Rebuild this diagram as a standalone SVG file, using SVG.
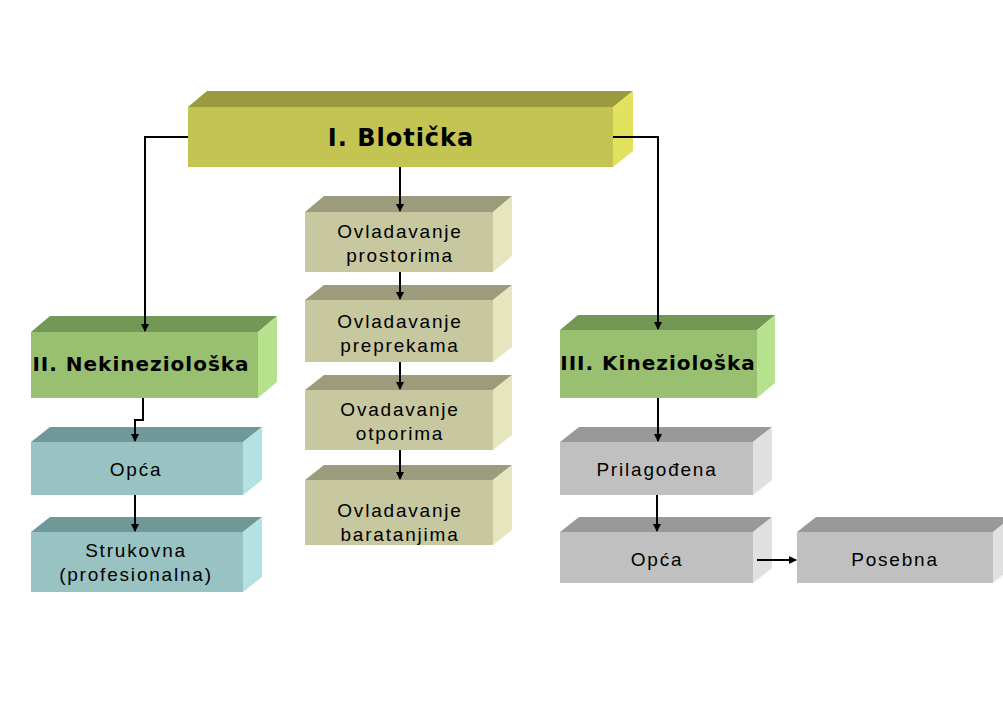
<svg xmlns="http://www.w3.org/2000/svg" width="1003" height="711" viewBox="0 0 1003 711">
<style>
.y-f{fill:#C4C452}.y-t{fill:#9A9A3E}.y-s{fill:#E2E25E}
.b-f{fill:#C7C7A0}.b-t{fill:#9C9C7C}.b-s{fill:#E6E6BE}
.g-f{fill:#99C070}.g-t{fill:#739856}.g-s{fill:#B6E28E}
.c-f{fill:#99C3C3}.c-t{fill:#6F9898}.c-s{fill:#B4E2E2}
.r-f{fill:#C0C0C0}.r-t{fill:#999999}.r-s{fill:#E0E0E0}
.t{font-family:"Liberation Sans",Arial,sans-serif;font-size:19px;letter-spacing:1.8px;fill:#000;text-anchor:middle}
.h{font-family:"DejaVu Sans",Verdana,sans-serif;font-weight:bold;fill:#000;text-anchor:middle;letter-spacing:1px}
.ln{fill:none;stroke:#000;stroke-width:2}
</style>
<defs>
<marker id="ar" markerWidth="8" markerHeight="8" refX="7" refY="4" orient="auto" markerUnits="userSpaceOnUse">
<path d="M0,0 L8,4 L0,8 Z" fill="#000"/>
</marker>
</defs>
<rect width="1003" height="711" fill="#fff"/>
<g id="n-biotic">
<polygon class="y-t" points="188,107 207,91 633,91 613,107"/>
<polygon class="y-s" points="613,107 633,91 633,151 613,167"/>
<rect class="y-f" x="188" y="107" width="425" height="60"/>
<text class="h" x="401" y="146" font-size="24">I. Blotička</text>
</g>
<g id="n-prostor">
<polygon class="b-t" points="305,212 324,196 512,196 493,212"/>
<polygon class="b-s" points="493,212 512,196 512,256 493,272"/>
<rect class="b-f" x="305" y="212" width="188" height="60"/>
<text class="t" x="400" y="238">Ovladavanje</text>
<text class="t" x="400" y="262">prostorima</text>
</g>
<g id="n-prepreke">
<polygon class="b-t" points="305,300 324,285 512,285 493,300"/>
<polygon class="b-s" points="493,300 512,285 512,347 493,362"/>
<rect class="b-f" x="305" y="300" width="188" height="62"/>
<text class="t" x="400" y="328">Ovladavanje</text>
<text class="t" x="400" y="352">preprekama</text>
</g>
<g id="n-otpori">
<polygon class="b-t" points="305,390 324,375 512,375 493,390"/>
<polygon class="b-s" points="493,390 512,375 512,435 493,450"/>
<rect class="b-f" x="305" y="390" width="188" height="60"/>
<text class="t" x="400" y="416">Ovadavanje</text>
<text class="t" x="400" y="440">otporima</text>
</g>
<g id="n-baratanje">
<polygon class="b-t" points="305,480 324,465 512,465 493,480"/>
<polygon class="b-s" points="493,480 512,465 512,530 493,545"/>
<rect class="b-f" x="305" y="480" width="188" height="65"/>
<text class="t" x="400" y="517">Ovladavanje</text>
<text class="t" x="400" y="541">baratanjima</text>
</g>
<g id="n-nekinezio">
<polygon class="g-t" points="31,332 50,316 277,316 258,332"/>
<polygon class="g-s" points="258,332 277,316 277,382 258,398"/>
<rect class="g-f" x="31" y="332" width="227" height="66"/>
<text class="h" x="141" y="371" font-size="20">II. Nekineziološka</text>
</g>
<g id="n-opca-l">
<polygon class="c-t" points="31,442 50,427 262,427 243,442"/>
<polygon class="c-s" points="243,442 262,427 262,480 243,495"/>
<rect class="c-f" x="31" y="442" width="212" height="53"/>
<text class="t" x="136" y="476">Opća</text>
</g>
<g id="n-strukovna">
<polygon class="c-t" points="31,532 50,517 262,517 243,532"/>
<polygon class="c-s" points="243,532 262,517 262,577 243,592"/>
<rect class="c-f" x="31" y="532" width="212" height="60"/>
<text class="t" x="136" y="557">Strukovna</text>
<text class="t" x="136" y="581">(profesionalna)</text>
</g>
<g id="n-kinezio">
<polygon class="g-t" points="560,330 578,315 775,315 757,330"/>
<polygon class="g-s" points="757,330 775,315 775,383 757,398"/>
<rect class="g-f" x="560" y="330" width="197" height="68"/>
<text class="h" x="658" y="370" font-size="20">III. Kineziološka</text>
</g>
<g id="n-prilagodena">
<polygon class="r-t" points="560,442 579,427 772,427 753,442"/>
<polygon class="r-s" points="753,442 772,427 772,480 753,495"/>
<rect class="r-f" x="560" y="442" width="193" height="53"/>
<text class="t" x="657" y="476">Prilagođena</text>
</g>
<g id="n-opca-r">
<polygon class="r-t" points="560,532 579,517 772,517 753,532"/>
<polygon class="r-s" points="753,532 772,517 772,568 753,583"/>
<rect class="r-f" x="560" y="532" width="193" height="51"/>
<text class="t" x="657" y="566">Opća</text>
</g>
<g id="n-posebna">
<polygon class="r-t" points="797,532 816,517 1012,517 993,532"/>
<polygon class="r-s" points="993,532 1012,517 1012,568 993,583"/>
<rect class="r-f" x="797" y="532" width="196" height="51"/>
<text class="t" x="895" y="566">Posebna</text>
</g>
<g id="connectors">
<polyline class="ln" points="188,137 145,137 145,331" marker-end="url(#ar)"/>
<polyline class="ln" points="613,137 658,137 658,329" marker-end="url(#ar)"/>
<line class="ln" x1="400" y1="167" x2="400" y2="211" marker-end="url(#ar)"/>
<line class="ln" x1="400" y1="272" x2="400" y2="299" marker-end="url(#ar)"/>
<line class="ln" x1="400" y1="362" x2="400" y2="389" marker-end="url(#ar)"/>
<line class="ln" x1="400" y1="450" x2="400" y2="479" marker-end="url(#ar)"/>
<polyline class="ln" points="143,398 143,420 135,420 135,441" marker-end="url(#ar)"/>
<line class="ln" x1="135" y1="495" x2="135" y2="531" marker-end="url(#ar)"/>
<line class="ln" x1="658" y1="398" x2="658" y2="441" marker-end="url(#ar)"/>
<line class="ln" x1="657" y1="495" x2="657" y2="531" marker-end="url(#ar)"/>
<line class="ln" x1="757" y1="560" x2="796" y2="560" marker-end="url(#ar)"/>
</g>
</svg>
